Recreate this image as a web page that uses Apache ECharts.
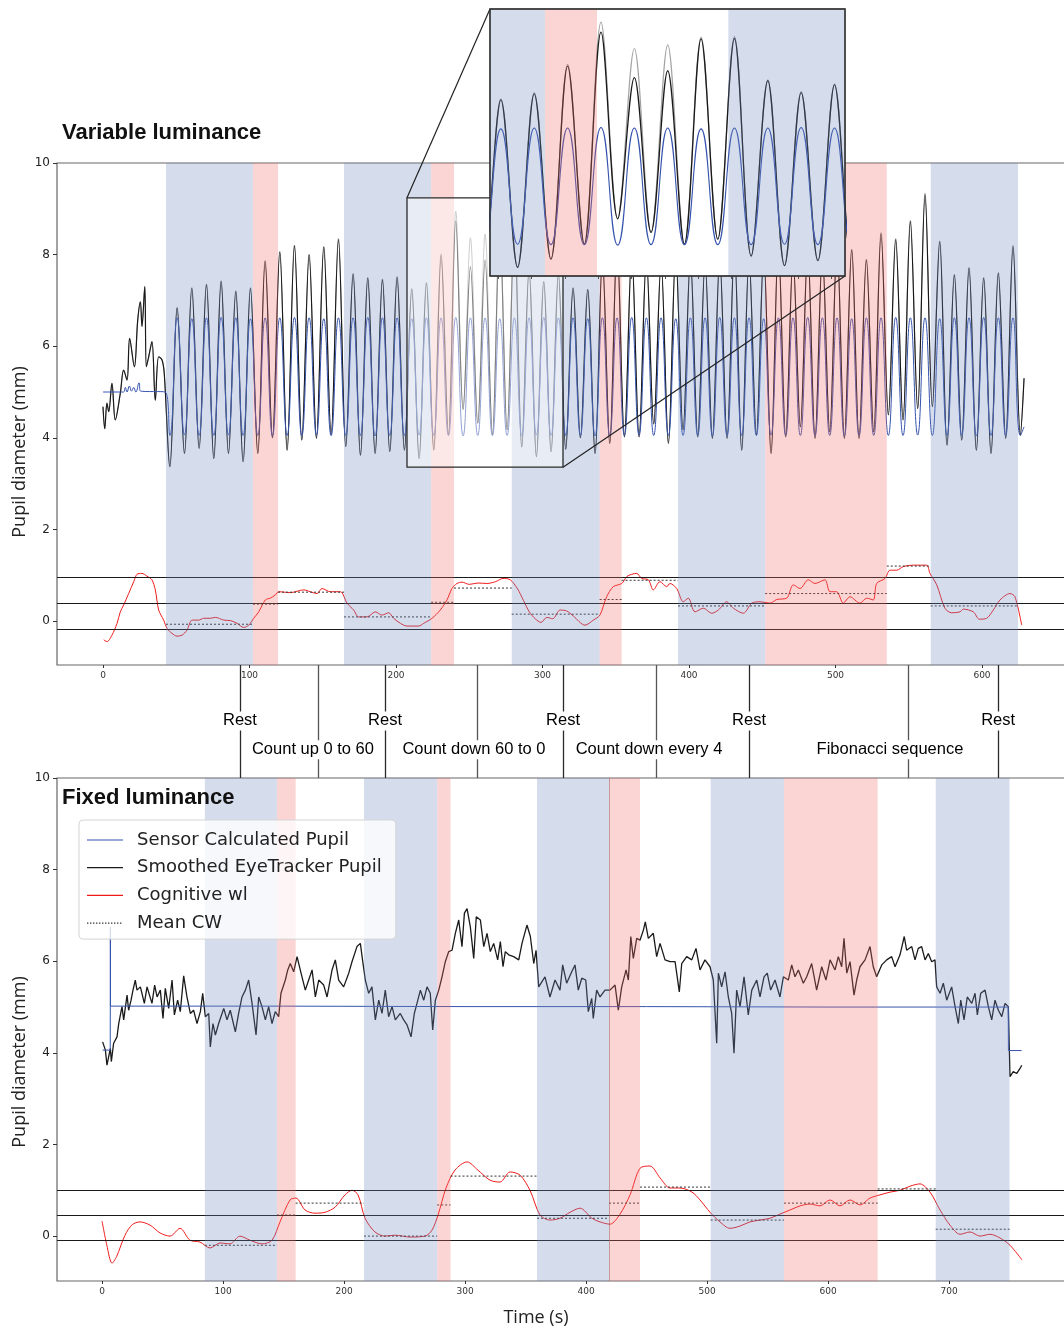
<!DOCTYPE html>
<html>
<head>
<meta charset="utf-8">
<script src="https://cdn.jsdelivr.net/npm/echarts@6/dist/echarts.min.js"></script>
<style>
  html, body { margin: 0; padding: 0; background: #fff; }
  #chart { width: 1064px; height: 1329px; }
</style>
</head>
<body>
<div id="chart"></div>
<script>
// ---------------- Variable luminance session ----------------
// Baseline before the luminance cycles start: [time s, pupil mm]
const varBaselineTracker = [[0,4.68],[1.2,4.2],[2.7,4.76],[3.9,4.57],[6.1,5.19],[8.4,4.39],[11.8,4.97],[14.1,5.48],[16.4,5.26],[18.2,6.17],[21.4,5.55],[23.7,6.57],[25.5,6.97],[26.6,6.43],[28.5,7.3],[29.6,5.55],[31.2,5.77],[33.4,6.1],[35.7,4.82],[38,5.77],[40.3,5.7],[41.8,5.41]];
const varBaselineSensor = [[0,5.0],[14,5.0],[15.2,5.1],[16.4,5.0],[18,5.13],[19.5,5.02],[21,5.1],[22.4,5.0],[24.6,5.2],[25.6,5.02],[42.5,5.0]];

// Luminance cycles: first trough at 45.6 s, one cycle every 10.01 s
const CYCLE_START = 45.6;
const CYCLE_PERIOD = 10.01;

// Per-cycle extremes of the smoothed eye tracker pupil (mm)
const trackerTroughs = [3.37,3.66,3.77,3.55,3.66,3.48,3.66,4.0,3.73,3.95,3.99,4.06,3.81,3.62,3.66,3.70,3.73,3.55,3.73,4.06,4.62,4.32,4.06,4.17,3.80,3.59,3.70,3.75,4.0,3.66,3.88,4.02,4.02,4.3,3.88,4.17,4.02,3.99,3.99,3.73,4.06,3.66,4.02,4.24,3.99,4.13,3.99,3.99,4.13,4.5,4.39,4.64,4.68,3.84,3.95,3.73,3.66,3.99,4.06];
const trackerPeaks = [6.83,7.26,7.34,7.41,7.19,7.26,7.85,8.05,8.19,7.99,8.16,8.33,7.57,7.48,7.45,7.50,7.24,7.37,7.98,8.73,7.73,7.88,8.58,8.59,7.66,7.40,7.57,7.26,7.23,7.9,8.2,8.0,7.9,7.8,8.0,7.9,7.8,7.9,8.1,7.9,8.0,8.2,7.9,8.1,8.0,8.2,8.10,7.88,8.45,8.32,8.72,9.30,8.28,7.55,7.70,7.48,7.59,8.17];
// Unsmoothed tracker peaks (differs from the smoothed trace on a few cycles)
const rawPeaks = [6.85,7.28,7.36,7.43,7.21,7.28,7.87,8.07,8.21,8.01,8.18,8.35,7.59,7.50,7.47,7.52,7.26,7.40,8.02,8.95,8.37,8.45,8.62,8.63,7.68,7.42,7.59,7.28,7.25,7.92,8.22,8.02,7.92,7.82,8.02,7.92,7.82,7.92,8.12,7.92,8.02,8.22,7.92,8.12,8.02,8.22,8.12,7.90,8.48,8.35,8.75,9.34,8.30,7.57,7.72,7.50,7.61,8.20];
// Per-cycle extremes of the sensor calculated pupil (mm)
const sensorTroughs = [4.05,4.06,4.05,4.05,4.06,4.05,4.05,4.04,4.05,4.05,4.06,4.05,4.05,4.05,4.04,4.05,4.05,4.06,4.05,4.05,4.04,4.05,4.05,4.05,4.05,4.06,4.05,4.05,4.05,4.04,4.05,4.05,4.06,4.05,4.05,4.05,4.05,4.04,4.05,4.05,4.05,4.06,4.05,4.05,4.05,4.05,4.04,4.05,4.05,4.05,4.05,4.06,4.05,4.05,4.05,4.04,4.05,4.05,4.05];
const sensorPeaks = [6.62,6.6,6.62,6.63,6.62,6.6,6.62,6.62,6.63,6.62,6.6,6.62,6.62,6.63,6.62,6.62,6.6,6.62,6.62,6.63,6.62,6.62,6.6,6.62,6.62,6.63,6.62,6.62,6.6,6.62,6.62,6.63,6.62,6.62,6.6,6.62,6.62,6.63,6.62,6.62,6.6,6.62,6.62,6.63,6.62,6.62,6.6,6.62,6.62,6.63,6.62,6.62,6.6,6.62,6.62,6.63,6.62,6.62];
const trackerEnd = [628.7, 5.3];
const sensorEnd = [628.7, 4.24];

// Cognitive workload index: [time s, value]
const varWorkload = [[0.5,-0.41],[2.7,-0.45],[6.1,-0.31],[9.6,-0.05],[11.8,0.2],[14.1,0.35],[17.5,0.6],[21,0.86],[23.2,1.02],[26.6,1.04],[30,0.98],[33.4,0.9],[35.7,0.68],[38,0.24],[41.4,0.02],[43.7,-0.16],[47.1,-0.27],[50.5,-0.33],[53.9,-0.31],[57.3,-0.2],[60.8,0.02],[65.3,0.02],[68.7,0.06],[73.2,0.06],[76.7,0.08],[82.4,0.02],[86.9,0.01],[91.5,-0.05],[96,-0.14],[99.5,-0.09],[102.9,0.06],[106.3,0.2],[110.8,0.46],[114.2,0.5],[117.6,0.57],[119.9,0.64],[127.9,0.62],[137,0.68],[141.5,0.64],[146.1,0.6],[149.5,0.71],[155.2,0.64],[162,0.64],[166.6,0.39],[171.1,0.24],[174.5,0.09],[180.2,0.09],[185.9,0.2],[190.4,0.13],[195,0.18],[198.4,0.06],[203,-0.05],[207.5,-0.11],[215.5,-0.11],[218.9,-0.05],[224.6,0.06],[230.2,0.24],[234.8,0.46],[238.2,0.71],[241.6,0.82],[245,0.85],[250,0.8],[256,0.83],[262,0.82],[268,0.86],[273,0.93],[278,0.9],[283,0.7],[287,0.45],[291,0.2],[295,0.05],[299,-0.03],[303,0.08],[307,0.05],[312,0.24],[316.5,0.22],[321,0.11],[329,-0.09],[334.7,0.02],[339.2,0.13],[343.8,0.53],[348.3,0.75],[354.1,0.82],[357.5,0.97],[360.9,1.02],[364.3,1.04],[367.7,0.93],[372.3,0.9],[375.6,0.68],[380.2,0.86],[384.8,0.75],[387,0.82],[391.6,0.71],[396.1,0.42],[399.5,0.5],[404.1,0.2],[409.8,0.28],[415.5,0.17],[420,0.24],[425.7,0.42],[430.3,0.28],[437.1,0.17],[442.8,0.39],[448.5,0.42],[455.3,0.39],[459.9,0.47],[466.7,0.5],[471.2,0.79],[475.8,0.71],[481.4,0.9],[486,0.82],[492.8,0.9],[496.2,0.64],[500.8,0.64],[505.3,0.39],[509.9,0.53],[516.7,0.39],[521.3,0.5],[525.8,0.46],[528.1,0.82],[533.8,0.93],[537.2,1.11],[541.8,1.11],[546.3,1.19],[553.1,1.22],[562.2,1.22],[564.5,1.04],[569.1,0.79],[574.7,0.28],[579.3,0.18],[585,0.2],[587.3,0.26],[594.1,0.2],[598.2,0.04],[603.2,0.06],[607.7,0.24],[612.3,0.46],[619.1,0.6],[622.5,0.53],[627.1,-0.09]];
// Mean workload per phase: [start s, end s, mean]
const varMeanCW = [[43,102.4,-0.07],[102.4,119.5,0.37],[119.5,164.5,0.63],[164.5,224,0.09],[224,239.6,0.41],[239.6,279,0.72],[279,339,0.15],[339,354,0.47],[354,392.5,0.89],[392.5,452,0.33],[452,535,0.6],[535,565,1.2],[565,624.6,0.33]];
const varThresholds = [0.95, 0.39, -0.18];
const varRestBands = [[43,102.4],[164.5,224],[279,339],[392.5,452],[565,624.6]];
const varTaskBands = [[102.4,119.5],[224,239.6],[339,354],[452,535]];

// Zoomed window shown in the inset
const insetTime = [207.5, 314];
const insetPupil = [3.36, 9.24];

// Protocol annotations (time on the variable-luminance axis)
const restMarks = [93.5, 192.5, 314, 441, 611];
const taskMarks = [146.8, 255.3, 377.5, 550];
const taskLabels = [[143.3,'Count up 0 to 60'],[253.2,'Count down 60 to 0'],[372.7,'Count down every 4'],[537.2,'Fibonacci sequence']];

// ---------------- Fixed luminance session ----------------
const fixedTracker = [[0.5,4.24],[2.8,4.06],[4.1,3.73],[6.9,4.1],[7.7,3.81],[9.6,4.21],[12.4,4.35],[13.8,4.64],[16.5,5.01],[17.9,4.72],[20.7,5.26],[22,4.93],[24,5.15],[25.6,5.37],[27.5,5.59],[28.9,5.37],[31.7,5.44],[35,5.08],[37.2,5.44],[41.3,5.08],[43.5,5.48],[45.5,5.22],[48.2,5.37],[50.4,4.75],[52.3,5.41],[55.1,4.97],[57.9,5.59],[59.8,4.83],[62.5,5.15],[64.7,4.9],[67.5,5.68],[70.2,5.22],[73,4.86],[75.7,4.93],[78.5,4.64],[81.3,4.9],[83.2,5.3],[85.4,4.79],[88.2,4.86],[89.5,4.13],[91.7,4.64],[93.7,4.39],[96.4,4.64],[100.6,4.97],[103.3,4.72],[106,4.93],[110.2,4.46],[112.9,4.86],[115.7,5.22],[118.5,5.37],[121.2,5.59],[124,5.08],[127.3,4.39],[129.5,5.22],[132.2,5.01],[135,4.72],[137.7,5.01],[140.5,4.64],[143.2,4.9],[146,4.79],[147.9,5.3],[151.5,5.59],[153.5,5.81],[155.6,5.95],[158.4,5.77],[161.2,6.1],[164.5,5.74],[168,5.37],[170.8,5.59],[173.6,5.81],[176.3,5.22],[179.1,5.59],[183.2,5.48],[186,5.22],[190.1,5.81],[192.8,6.03],[195.6,5.59],[199.7,5.44],[203.9,5.74],[206.6,5.99],[210.7,6.32],[213.5,6.39],[215.7,5.95],[217.6,5.59],[220.4,5.3],[223.1,5.44],[225.9,4.72],[228.7,5.15],[231.4,4.86],[234.1,5.37],[236.9,4.79],[239.7,5.01],[242.4,4.72],[246.5,4.86],[249.3,4.72],[252.1,4.61],[255.4,4.35],[258.1,4.86],[260.3,5.08],[263.1,5.37],[265.9,5.15],[268.6,5.44],[271.3,5.3],[273.3,4.5],[275.5,5.15],[278.3,5.37],[281,5.66],[283.7,5.99],[286.5,6.21],[289.3,6.24],[292,6.61],[294.8,6.9],[297.5,6.32],[299.5,7.05],[301.7,7.15],[304.4,6.75],[307.2,6.06],[309.3,6.97],[312.7,6.9],[315.5,6.32],[318.2,6.61],[320.9,6.21],[323.7,6.39],[327,6.03],[329.2,6.43],[331.4,5.88],[333.3,6.21],[336.1,6.14],[340.2,6.1],[344.4,6.03],[347.1,6.39],[351.2,6.79],[354,6.54],[356.8,5.95],[358.7,6.24],[360.9,5.44],[366.1,5.66],[370.2,5.22],[374.4,5.59],[378.5,5.37],[380.7,5.92],[384,5.52],[388.2,5.77],[390.9,5.92],[393.6,5.37],[396.5,5.63],[399.8,5.59],[401.9,4.9],[404.7,5.19],[406,4.75],[408.8,5.37],[411.6,5.22],[415.7,5.37],[419.8,5.37],[424,5.48],[426.7,4.93],[429.5,5.44],[433.1,5.81],[435,5.59],[437,6.54],[439.1,6.06],[441.9,6.5],[444.6,6.46],[447.4,6.68],[449,6.86],[451.5,6.5],[455.6,6.61],[458.4,6.1],[461.2,6.39],[465.3,6.03],[469.4,5.99],[473.6,5.99],[477.1,5.33],[479.1,5.95],[483.2,6.1],[487.4,6.03],[490.9,6.28],[494.2,5.81],[498.3,6.03],[502.5,5.88],[505.2,5.59],[508,4.21],[509.4,5.74],[512.1,5.44],[514.9,5.77],[517.6,5.22],[520.4,4.86],[522.3,3.99],[524.5,5.37],[527.3,5.01],[530.6,5.66],[534.1,4.83],[537,5.37],[541.1,5.59],[543.8,5.22],[547.1,5.66],[549.8,5.74],[552.6,5.37],[556.2,5.59],[560.3,5.22],[563.1,5.66],[567.2,5.59],[570,5.92],[572.7,5.66],[575.5,5.81],[579.6,5.52],[582.4,5.66],[586.5,5.95],[590.6,5.37],[594.8,5.88],[598.3,5.59],[601.7,6.03],[605.8,5.81],[608.5,6.1],[611.3,5.88],[613.2,6.5],[615.5,5.74],[618.2,5.99],[621.5,5.26],[623.7,5.59],[626.4,5.88],[630.6,6.03],[634.7,6.32],[637.4,5.88],[640.2,5.66],[644.4,5.92],[648.5,6.03],[652.6,6.1],[655.4,5.88],[659.5,6.14],[663,6.54],[665,6.24],[669.2,6.32],[671.9,6.03],[674.6,6.28],[677.4,6.32],[680.2,6.03],[682.9,6.17],[685.7,5.99],[688.4,6.03],[689.8,5.44],[692.6,5.3],[695.3,5.52],[698.1,5.15],[702.2,5.44],[705,5.01],[707.7,4.64],[709.7,5.15],[712.4,4.72],[715.1,5.22],[718.8,5.08],[721.5,5.3],[723.4,4.83],[726.2,5.3],[729.8,5.37],[732.5,5.01],[735.3,4.72],[738,5.15],[740.8,4.93],[743.6,4.79],[746.3,5.08],[749,5.01],[750.4,3.48],[753.1,3.59],[756,3.55],[758.7,3.66],[760.1,3.73]];
const fixedSensor = [[0.5,4.06],[6.8,4.06],[6.9,6.75],[7.0,5.02],[150,5.02],[300,5.01],[450,5.01],[600,5.0],[748.9,5.0],[749.1,4.05],[760,4.05]];
const fixedWorkload = [[0,0.33],[4,-0.2],[8.3,-0.59],[12,-0.45],[19,0.02],[25,0.25],[31.4,0.31],[39.7,0.24],[47.9,0.07],[56.2,0],[64.5,0.17],[72.7,-0.09],[81,-0.13],[89.3,-0.26],[97.5,-0.15],[105.8,-0.17],[114,0],[122.3,-0.09],[132.2,-0.17],[140.5,-0.09],[147.1,0.31],[155.4,0.79],[160.3,0.83],[167.8,0.57],[176,0.5],[184.3,0.52],[192.6,0.63],[200.8,0.9],[206.6,1.0],[211.6,0.9],[217.4,0.39],[225.6,0.09],[233.9,0],[242.1,0.02],[254.5,-0.02],[267,0],[272.7,0.13],[277.7,0.46],[284.3,1.05],[291.7,1.44],[301.7,1.62],[310.7,1.44],[320.7,1.22],[328.9,1.18],[337.2,1.4],[345.5,1.33],[353.7,1.0],[362,0.46],[370.2,0.35],[378.5,0.39],[386.8,0.52],[395,0.61],[404.9,0.39],[411.6,0.31],[419.8,0.26],[428.1,0.48],[436.4,0.9],[444.6,1.48],[452.9,1.53],[461.2,1.27],[469.4,1.05],[477.7,1.05],[487.6,0.96],[494.2,0.79],[502.5,0.52],[510.7,0.31],[519,0.17],[527.3,0.22],[535.5,0.31],[543.8,0.35],[552.1,0.39],[560.3,0.48],[568.6,0.57],[576.9,0.66],[585.1,0.7],[593.4,0.66],[601.7,0.79],[609.9,0.66],[618.2,0.79],[626.4,0.68],[634.7,0.83],[643,0.9],[651.2,0.96],[659.5,1.0],[667.8,1.09],[676,1.14],[684.3,0.96],[692.6,0.57],[700.8,0.24],[709.1,0.04],[717.4,0.09],[725.6,0],[733.9,0.04],[742.1,-0.04],[750.4,-0.2],[760.3,-0.52]];
const fixedMeanCW = [[85,144.6,-0.2],[144.6,160,0.46],[160,216.5,0.72],[216.5,277,0],[277,288,0.68],[288,359.5,1.31],[359.5,419,0.39],[419,444.6,0.72],[444.6,503,1.07],[503,563.6,0.35],[563.6,641,0.72],[641,689,1.03],[689,750,0.15]];
const fixedThresholds = [1.0, 0.46, -0.09];
const fixedRestBands = [[85,144.6],[216.5,277],[359.5,419],[503,563.6],[689,750]];
const fixedTaskBands = [[144.6,160],[277,288],[419,444.6],[563.6,641]];
const fixedPhaseEdge = [419];

const varTicks = [0,100,200,300,400,500,600];
const fixedTicks = [0,100,200,300,400,500,600,700];
const pupilTicks = [0,2,4,6,8,10];
const legendNames = ['Sensor Calculated Pupil', 'Smoothed EyeTracker Pupil', 'Cognitive wl', 'Mean CW'];

// ---------------- helpers ----------------
function cycleTrace(pre, troughs, peaks, tail) {
  const out = pre.slice();
  for (let k = 0; k < troughs.length; k++) {
    out.push([CYCLE_START + k * CYCLE_PERIOD, troughs[k]]);
    if (k < peaks.length) out.push([CYCLE_START + CYCLE_PERIOD / 2 + k * CYCLE_PERIOD, peaks[k]]);
  }
  out.push(tail);
  return out;
}
function segments(list) {
  const out = [];
  list.forEach(s => { out.push([s[0], s[2]], [s[1], s[2]], [s[1], '-']); });
  return out;
}
function bandData(rest, task) {
  return rest.map(b => [b[0], b[1], 0]).concat(task.map(b => [b[0], b[1], 1]));
}

const trackerTrace = cycleTrace(varBaselineTracker, trackerTroughs, trackerPeaks, trackerEnd);
const rawTrace = cycleTrace(varBaselineTracker, trackerTroughs, rawPeaks, trackerEnd);
const sensorTrace = cycleTrace(varBaselineSensor, sensorTroughs, sensorPeaks, sensorEnd);

const BLUE = '#3552ad', BLACK = '#1a1a1a', RAW = '#a3a3a3', RED = '#f01a1a';
const REST_FILL = 'rgba(110,138,193,0.29)', TASK_FILL = 'rgba(240,107,107,0.29)';
const UI_FONT = 'DejaVu Sans';

// Legend glyphs: a thin solid stroke and a dotted stroke (the leading moves fix the glyph box)
const SOLID_ICON = 'path://M0,0M36,14M0,6.4L36,6.4L36,7.6L0,7.6Z';
let dotted = 'path://M0,0M36,14';
for (let x = 0; x < 36; x += 3) dotted += 'M' + x + ',6.4L' + (x + 1.4) + ',6.4L' + (x + 1.4) + ',7.6L' + x + ',7.6Z';
const DOTTED_ICON = dotted;

function bandRender(params, api) {
  const cs = params.coordSys;
  const x0 = api.coord([api.value(0), 0])[0];
  const x1 = api.coord([api.value(1), 0])[0];
  const shape = echarts.graphic.clipRectByRect({ x: x0, y: cs.y, width: x1 - x0, height: cs.height },
    { x: cs.x, y: cs.y, width: cs.width, height: cs.height });
  if (!shape) return;
  return { type: 'rect', shape: shape, style: { fill: api.value(2) ? TASK_FILL : REST_FILL } };
}
function windowRender(params, api) {
  const p0 = api.coord([api.value(0), api.value(3)]);
  const p1 = api.coord([api.value(1), api.value(2)]);
  return { type: 'rect', shape: { x: p0[0], y: p0[1], width: p1[0] - p0[0], height: p1[1] - p0[1] },
    style: { fill: 'rgba(255,255,255,0.45)', stroke: '#2a2a2a', lineWidth: 1.3 } };
}

function lineSeries(name, data, color, g, extra) {
  return Object.assign({
    type: 'line', name: name, data: data, xAxisIndex: g, yAxisIndex: g,
    symbol: 'none', smooth: false, animation: false, silent: true,
    lineStyle: { color: color, width: 1 }, itemStyle: { color: color }, z: 3
  }, extra || {});
}
function thresholdSeries(vals, g) {
  return {
    type: 'line', data: [], xAxisIndex: g, yAxisIndex: g, silent: true, z: 4,
    markLine: { symbol: 'none', silent: true, animation: false, label: { show: false },
      lineStyle: { color: '#1a1a1a', width: 1, type: 'solid' },
      data: vals.map(v => ({ yAxis: v })) }
  };
}
function valueAxis(g, min, max, ticks, show) {
  return {
    type: 'value', gridIndex: g, min: min, max: max, splitLine: { show: false },
    axisLine: { show: false, onZero: false },
    axisTick: show ? { show: true, customValues: ticks, length: 3, lineStyle: { color: '#333' } } : { show: false },
    axisLabel: show ? { show: true, customValues: ticks, fontSize: 9, color: '#333', fontFamily: UI_FONT, margin: 6 } : { show: false }
  };
}
function pupilAxis(g, min) {
  return {
    type: 'value', gridIndex: g, min: min, max: 10, splitLine: { show: false },
    axisLine: { show: false, onZero: false },
    axisTick: { show: true, customValues: pupilTicks, length: 4, lineStyle: { color: '#333' } },
    axisLabel: { customValues: pupilTicks, fontSize: 12, color: '#222', fontFamily: UI_FONT, margin: 7 }
  };
}
function panelGrid(top, height) {
  return { left: 57, top: top, width: 1040, height: height, show: true, borderColor: '#666', borderWidth: 1.2,
    backgroundColor: 'transparent', containLabel: false, outerBoundsMode: 'none' };
}

const chart = echarts.init(document.getElementById('chart'), null, { renderer: 'canvas' });

const option = {
  animation: false,
  grid: [
    panelGrid(163, 502),
    { left: 57, top: 665, width: 1040, height: 113, show: false, outerBoundsMode: 'none' },
    panelGrid(778, 503),
    { left: 490, top: 9, width: 355, height: 267, show: true, borderColor: '#333', borderWidth: 1.2, backgroundColor: '#fff', z: 20, outerBoundsMode: 'none' }
  ],
  xAxis: [
    valueAxis(0, -31.4, 678.5, varTicks, true),
    valueAxis(1, -31.4, 678.5, varTicks, false),
    valueAxis(2, -37.2, 822.3, fixedTicks, true),
    Object.assign(valueAxis(3, insetTime[0], insetTime[1], [], false), {
      z: 30, axisTick: { show: true, customValues: [210,220,230,240,250,260,270,280,290,300,310], length: 3, lineStyle: { color: '#555' } }
    })
  ],
  yAxis: [
    pupilAxis(0, -0.96),
    { type: 'value', gridIndex: 1, min: 0, max: 1, show: false },
    pupilAxis(2, -0.98),
    { type: 'value', gridIndex: 3, min: insetPupil[0], max: insetPupil[1], show: false }
  ],
  legend: {
    data: legendNames.map((n, i) => ({ name: n, icon: i === 3 ? DOTTED_ICON : SOLID_ICON })),
    orient: 'vertical', left: 79, top: 820, z: 50, selectedMode: false,
    itemWidth: 36, itemHeight: 14, itemGap: 5.7,
    padding: [9, 14, 5, 8],
    backgroundColor: 'rgba(255,255,255,0.8)', borderColor: '#d4d4d4', borderWidth: 1, borderRadius: 4,
    textStyle: { fontFamily: UI_FONT, fontSize: 18, color: '#222', lineHeight: 22, padding: [0, 0, 0, 9] }
  },
  series: [
    // ---- variable luminance ----
    lineSeries('raw', rawTrace, RAW, 0, { smooth: 0.35, z: 2 }),
    lineSeries('Smoothed EyeTracker Pupil', trackerTrace, BLACK, 0, { smooth: 0.35, lineStyle: { color: BLACK, width: 1.2 } }),
    lineSeries('Sensor Calculated Pupil', sensorTrace, BLUE, 0, { smooth: 0.5 }),
    lineSeries('Cognitive wl', varWorkload, RED, 0, { smooth: 0.3 }),
    lineSeries('Mean CW', segments(varMeanCW), '#333', 0, { lineStyle: { color: '#333', width: 1, type: [2, 2] }, connectNulls: false }),
    thresholdSeries(varThresholds, 0),
    { type: 'custom', name: 'bands', xAxisIndex: 0, yAxisIndex: 0, z: 10, silent: true,
      renderItem: bandRender, data: bandData(varRestBands, varTaskBands) },
    { type: 'custom', name: 'window', xAxisIndex: 0, yAxisIndex: 0, z: 11, silent: true,
      renderItem: windowRender, data: [[insetTime[0], insetTime[1], insetPupil[0], insetPupil[1]]] },

    // ---- inset ----
    lineSeries('raw', rawTrace, RAW, 3, { smooth: 0.35, z: 21, lineStyle: { color: RAW, width: 1.2 } }),
    lineSeries('Smoothed EyeTracker Pupil', trackerTrace, BLACK, 3, { smooth: 0.35, z: 22, lineStyle: { color: BLACK, width: 1.3 } }),
    lineSeries('Sensor Calculated Pupil', sensorTrace, BLUE, 3, { smooth: 0.5, z: 23, lineStyle: { color: BLUE, width: 1.1 } }),
    { type: 'custom', name: 'insetBands', xAxisIndex: 3, yAxisIndex: 3, z: 24, silent: true,
      renderItem: bandRender, data: bandData(varRestBands, varTaskBands) },

    // ---- protocol annotations ----
    { type: 'line', name: 'marks', xAxisIndex: 1, yAxisIndex: 1, data: [], silent: true, z: 2,
      markLine: { symbol: 'none', silent: true, animation: false, label: { show: false },
        data: restMarks.map(t => ({ xAxis: t, lineStyle: { color: '#2a2a2a', width: 1.3, type: 'solid' } }))
          .concat(taskMarks.map(t => ({ xAxis: t, lineStyle: { color: '#555', width: 1.3, type: 'solid' } }))) } },
    { type: 'scatter', name: 'annot', xAxisIndex: 1, yAxisIndex: 1, symbolSize: 0, silent: true, z: 5,
      data: restMarks.map(t => ({ value: [t, 0.505], name: 'Rest' }))
        .concat(taskLabels.map(d => ({ value: [d[0], 0.25], name: d[1] }))),
      label: { show: true, position: 'inside', formatter: p => p.name, color: '#000', opacity: 1,
        fontFamily: 'Liberation Sans', fontSize: 16.5, backgroundColor: '#fff', padding: [1, 1] } },

    // ---- fixed luminance ----
    lineSeries('Smoothed EyeTracker Pupil', fixedTracker, BLACK, 2, { lineStyle: { color: BLACK, width: 1.3 } }),
    lineSeries('Sensor Calculated Pupil', fixedSensor, BLUE, 2, { z: 4 }),
    lineSeries('Cognitive wl', fixedWorkload, RED, 2, { smooth: 0.3 }),
    lineSeries('Mean CW', segments(fixedMeanCW), '#333', 2, { lineStyle: { color: '#333', width: 1, type: [2, 2] }, connectNulls: false }),
    thresholdSeries(fixedThresholds, 2),
    { type: 'line', data: [], xAxisIndex: 2, yAxisIndex: 2, silent: true, z: 9,
      markLine: { symbol: 'none', silent: true, animation: false, label: { show: false },
        lineStyle: { color: 'rgba(130,100,110,0.55)', width: 1, type: 'solid' },
        data: fixedPhaseEdge.map(t => ({ xAxis: t })) } },
    { type: 'custom', name: 'bands', xAxisIndex: 2, yAxisIndex: 2, z: 10, silent: true,
      renderItem: bandRender, data: bandData(fixedRestBands, fixedTaskBands) }
  ],
  graphic: [
    { id: 't1', type: 'text', left: 62, top: 122, z: 60,
      style: { text: 'Variable luminance', font: 'bold 22px "Liberation Sans"', fill: '#111' } },
    { id: 't2', type: 'text', left: 62, top: 787, z: 60,
      style: { text: 'Fixed luminance', font: 'bold 22px "Liberation Sans"', fill: '#111' } },
    { id: 'y1', type: 'text', x: 20, y: 452, rotation: Math.PI / 2, z: 60,
      style: { text: 'Pupil diameter (mm)', font: '18px "Open Sans"', fill: '#222', align: 'center', verticalAlign: 'middle' } },
    { id: 'y2', type: 'text', x: 20, y: 1062, rotation: Math.PI / 2, z: 60,
      style: { text: 'Pupil diameter (mm)', font: '18px "Open Sans"', fill: '#222', align: 'center', verticalAlign: 'middle' } },
    { id: 'xn', type: 'text', x: 536, y: 1318, z: 60,
      style: { text: 'Time (s)', font: '18px "Open Sans"', fill: '#222', align: 'center', verticalAlign: 'middle' } }
  ]
};

chart.setOption(option);

// Connector lines from the zoom window to the inset, plus a crisp inset frame
const wTL = chart.convertToPixel({ gridIndex: 0 }, [insetTime[0], insetPupil[1]]);
const wBR = chart.convertToPixel({ gridIndex: 0 }, [insetTime[1], insetPupil[0]]);
const iTL = chart.convertToPixel({ gridIndex: 3 }, [insetTime[0], insetPupil[1]]);
const iBR = chart.convertToPixel({ gridIndex: 3 }, [insetTime[1], insetPupil[0]]);
chart.setOption({
  graphic: [
    { id: 'c1', type: 'line', z: 40, shape: { x1: wTL[0], y1: wTL[1], x2: iTL[0], y2: iTL[1] }, style: { stroke: '#222', lineWidth: 1.2 } },
    { id: 'c2', type: 'line', z: 40, shape: { x1: wBR[0], y1: wBR[1], x2: iBR[0], y2: iBR[1] }, style: { stroke: '#222', lineWidth: 1.2 } },
    { id: 'frame', type: 'rect', z: 40, shape: { x: iTL[0], y: iTL[1], width: iBR[0] - iTL[0], height: iBR[1] - iTL[1] },
      style: { fill: 'none', stroke: '#333', lineWidth: 1.3 } }
  ]
});
</script>
</body>
</html>
